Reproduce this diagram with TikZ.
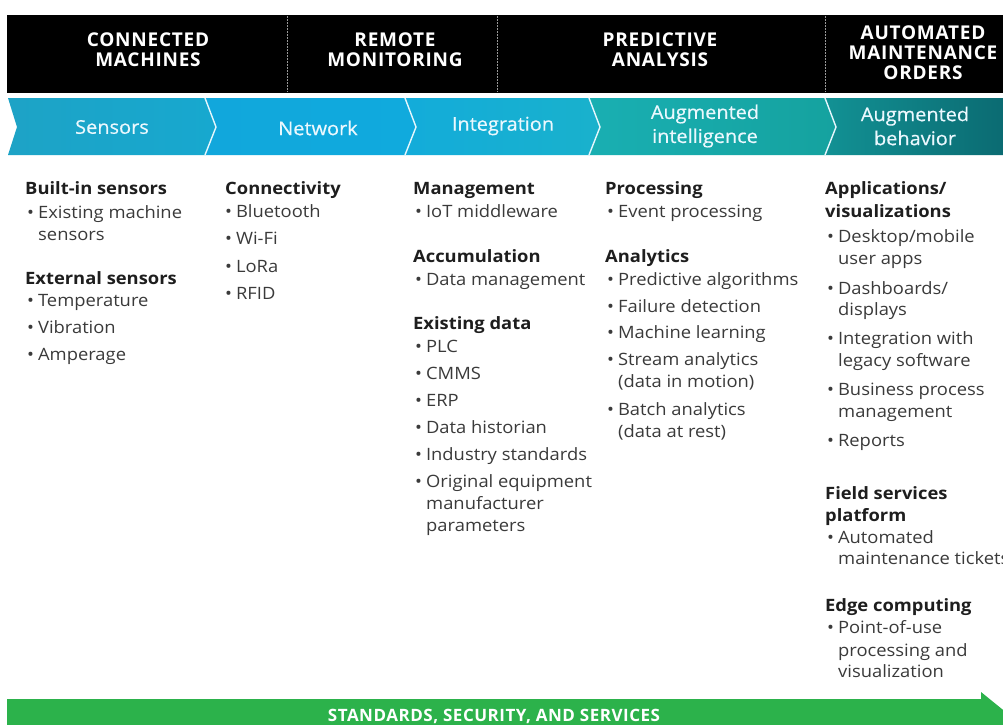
\documentclass[tikz,border=0pt]{standalone}
\usepackage{fontspec}
\setmainfont{Open Sans}
\newfontfamily\bodyfont{Open Sans}[FakeStretch=1.08]
\newfontfamily\hdrfont{Open Sans}[LetterSpace=4]
\newfontfamily\medfont{Open Sans}[FakeBold=0.5, FakeStretch=1.05]
\newfontfamily\grnfont{Open Sans}[LetterSpace=3]
\usetikzlibrary{calc}
\definecolor{cSenL}{HTML}{1DA3C6}
\definecolor{cSenR}{HTML}{17A8CF}
\definecolor{cNetL}{HTML}{11A7DC}
\definecolor{cNetR}{HTML}{10AADD}
\definecolor{cIntL}{HTML}{13ACDA}
\definecolor{cIntR}{HTML}{19B1CC}
\definecolor{cAiL}{HTML}{19AFB2}
\definecolor{cAiR}{HTML}{15A29F}
\definecolor{cAbL}{HTML}{129194}
\definecolor{cAbR}{HTML}{0B6B72}
\definecolor{cGreen}{HTML}{2CB24B}
\definecolor{cBody}{HTML}{3A3A3A}
\definecolor{cHead}{HTML}{1E1E1E}
\tikzset{
  hdr/.style={text=white, align=center, inner sep=0pt, font=\hdrfont\bfseries\fontsize{19}{20}\selectfont},
  chv/.style={text=white!92!cyan, align=center, inner sep=0pt, font=\medfont\fontsize{19}{24}\selectfont},
  hd/.style={anchor=base west, inner sep=0pt, text=cHead, font=\bodyfont\bfseries\fontsize{17}{20}\selectfont},
  bl/.style={anchor=base west, inner sep=0pt, text=cBody, font=\bodyfont\fontsize{17}{20}\selectfont},
  sep/.style={draw=white!90!cyan, line width=1.4pt},
  dotsep/.style={draw=gray!80, line width=1pt, dash pattern=on 1.5pt off 1.5pt}
}
\newcommand\Hd[4]{\node[hd] (#1) at (#2,#3) {#4};}
\newcommand\Bl[4]{\node[bl] (#1) at (#2,#3) {•\hspace{4pt}#4};}
\newcommand\Ct[4]{\node[bl] (#1) at (#2+11,#3) {#4};}
\begin{document}
\begin{tikzpicture}[x=1pt,y=-1pt]
\useasboundingbox (0,0) rectangle (1003,724);
\clip (0,0) rectangle (1003,724);
\fill[white] (0,0) rectangle (1003,724);
% black header bar
\fill[black] (7,15) rectangle (1003,93);
\coordinate (d1t) at (287,16); \coordinate (d1b) at (287,92);
\coordinate (d2t) at (497,16); \coordinate (d2b) at (497,92);
\coordinate (d3t) at (825,16); \coordinate (d3b) at (825,92);
\draw[dotsep] (d1t) -- (d1b);
\draw[dotsep] (d2t) -- (d2b);
\draw[dotsep] (d3t) -- (d3b);
\node[hdr] (h1) at (148,50) {CONNECTED\\MACHINES};
\node[hdr] (h2) at (395,50) {REMOTE\\MONITORING};
\node[hdr] (h3) at (660,50) {PREDICTIVE\\ANALYSIS};
\node[hdr] (h4) at (923,53) {AUTOMATED\\MAINTENANCE\\ORDERS};
% chevrons
\shade[left color=cSenL, right color=cSenR] (8,98) -- (205,98) -- (216,127) -- (205,155) -- (8,155) -- (17,127) -- cycle;
\shade[left color=cNetL, right color=cNetR] (205,98) -- (405,98) -- (416,127) -- (405,155) -- (205,155) -- (216,127) -- cycle;
\shade[left color=cIntL, right color=cIntR] (405,98) -- (589,98) -- (600,127) -- (589,155) -- (405,155) -- (416,127) -- cycle;
\shade[left color=cAiL, right color=cAiR] (589,98) -- (825,98) -- (836,127) -- (825,155) -- (589,155) -- (600,127) -- cycle;
\shade[left color=cAbL, right color=cAbR] (825,98) -- (1003,98) -- (1003,155) -- (825,155) -- (836,127) -- cycle;
\draw[sep] (205,98) -- (216,127) -- (205,155);
\draw[sep] (405,98) -- (416,127) -- (405,155);
\draw[sep] (589,98) -- (600,127) -- (589,155);
\draw[sep] (825,98) -- (836,127) -- (825,155);
\node[chv] (s1) at (112,127) {Sensors};
\node[chv] (s2) at (318,128) {Network};
\node[chv] (s3) at (503,126) {Integration};
\node[chv] (s4) at (705,126) {Augmented\\intelligence};
\node[chv] (s5) at (915,126) {Augmented\\behavior};
% column 1
\Hd{a1}{25}{194}{Built-in sensors}
\Bl{a2}{27}{218}{Existing machine}
\Ct{a3}{27}{240}{sensors}
\Hd{a4}{25}{284}{External sensors}
\Bl{a5}{27}{306}{Temperature}
\Bl{a6}{27}{333}{Vibration}
\Bl{a7}{27}{360}{Amperage}
% column 2
\Hd{b1}{225}{194}{Connectivity}
\Bl{b2}{225}{217}{Bluetooth}
\Bl{b3}{225}{244}{Wi-Fi}
\Bl{b4}{225}{272}{LoRa}
\Bl{b5}{225}{299}{RFID}
% column 3
\Hd{c1}{413}{194}{Management}
\Bl{c2}{415}{217}{IoT middleware}
\Hd{c3}{413}{262}{Accumulation}
\Bl{c4}{415}{285}{Data management}
\Hd{c5}{413}{329}{Existing data}
\Bl{c6}{415}{352}{PLC}
\Bl{c7}{415}{379}{CMMS}
\Bl{c8}{415}{406}{ERP}
\Bl{c9}{415}{433}{Data historian}
\Bl{c10}{415}{460}{Industry standards}
\Bl{c11}{415}{487}{Original equipment}
\Ct{c12}{415}{509}{manufacturer}
\Ct{c13}{415}{531}{parameters}
% column 4
\Hd{d1}{605}{194}{Processing}
\Bl{d2}{607}{217}{Event processing}
\Hd{d3}{605}{262}{Analytics}
\Bl{d4}{607}{285}{Predictive algorithms}
\Bl{d5}{607}{312}{Failure detection}
\Bl{d6}{607}{338}{Machine learning}
\Bl{d7}{607}{365}{Stream analytics}
\Ct{d8}{607}{387}{(data in motion)}
\Bl{d9}{607}{415}{Batch analytics}
\Ct{d10}{607}{437}{(data at rest)}
% column 5
\Hd{e1}{825}{194}{Applications/}
\Hd{e2}{825}{217}{visualizations}
\Bl{e3}{827}{242}{Desktop/mobile}
\Ct{e4}{827}{264}{user apps}
\Bl{e5}{827}{294}{Dashboards/}
\Ct{e6}{827}{315}{displays}
\Bl{e7}{827}{344}{Integration with}
\Ct{e8}{827}{366}{legacy software}
\Bl{e9}{827}{395}{Business process}
\Ct{e10}{827}{417}{management}
\Bl{e11}{827}{446}{Reports}
\Hd{e12}{825}{499}{Field services}
\Hd{e13}{825}{521}{platform}
\Bl{e14}{827}{543}{Automated}
\Ct{e15}{827}{564}{maintenance tickets}
\Hd{e16}{825}{611}{Edge computing}
\Bl{e17}{827}{633}{Point-of-use}
\Ct{e18}{827}{656}{processing and}
\Ct{e19}{827}{677}{visualization}
% green bar
\fill[cGreen] (7,699) -- (981,699) -- (981,692) -- (1013,718) -- (981,744) -- (981,740) -- (7,740) -- cycle;
\node[text=white, inner sep=0pt, font=\grnfont\bfseries\fontsize{17}{18}\selectfont] (g) at (494,716) {STANDARDS, SECURITY, AND SERVICES};
\end{tikzpicture}
\end{document}
